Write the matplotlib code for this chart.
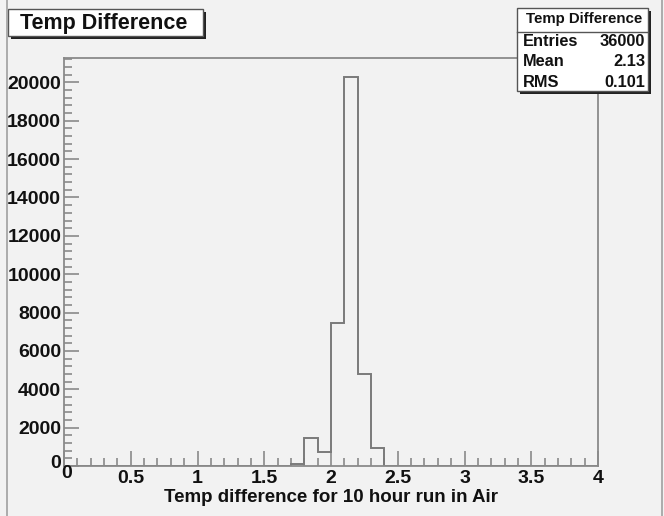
import numpy as np
import matplotlib
matplotlib.use("Agg")
import matplotlib.pyplot as plt
from matplotlib.patches import Rectangle
from matplotlib.lines import Line2D
from matplotlib.ticker import MultipleLocator

# histogram data (bin width 0.1, range 0-4)
bin_centers = [1.75, 1.85, 1.95, 2.05, 2.15, 2.25, 2.35]
bin_counts = [120, 1480, 740, 7450, 20260, 4800, 960]
n_bins = 40
x_range = (0, 4)

title = "Temp Difference"
x_label = "Temp difference for 10 hour run in Air"
stats_names = ["Entries", "Mean", "RMS"]
stats_values = ["36000", "2.13", "0.101"]

W, H = 664, 516
bg = "#f2f2f2"
frame_col = "#8a8a8a"
txt_col = "#111111"
font = "Liberation Sans"

fig = plt.figure(figsize=(W / 100, H / 100), dpi=100, facecolor=bg)
ax = fig.add_axes([64 / W, 1 - 466 / H, 534 / W, 408 / H], facecolor=bg)

ax.hist(bin_centers, bins=n_bins, range=x_range, weights=bin_counts,
        histtype="step", color="#7a7a7a", linewidth=1.4)

ax.set_xlim(*x_range)
ax.set_ylim(0, max(bin_counts) * 1.05)
ax.xaxis.set_major_locator(MultipleLocator(0.5))
ax.xaxis.set_minor_locator(MultipleLocator(0.1))
ax.yaxis.set_major_locator(MultipleLocator(2000))
ax.yaxis.set_minor_locator(MultipleLocator(400))
ax.tick_params(which="both", direction="in", color=frame_col, width=1.2,
               top=False, right=False)
ax.tick_params(which="major", length=11)
ax.tick_params(which="minor", length=6)
ax.tick_params(axis="x", pad=3)
ax.tick_params(axis="y", pad=2)
for s in ax.spines.values():
    s.set_color(frame_col)
    s.set_linewidth(1.3)

ax.set_xticklabels([("%g" % v) if v != 0 else "" for v in ax.get_xticks()])
ax.set_yticklabels([("%d" % v) if v != 0 else "" for v in ax.get_yticks()])
for lab in ax.get_xticklabels() + ax.get_yticklabels():
    lab.set_fontfamily(font)
    lab.set_fontweight("bold")
    lab.set_fontsize(14)
    lab.set_color(txt_col)
# ROOT style zero labels
fig.text(61 / W, 1 - 463 / H, "0", ha="right", va="center", fontsize=14,
         fontweight="bold", family=font, color=txt_col)
fig.text(67 / W, 1 - 474 / H, "0", ha="center", va="center", fontsize=14,
         fontweight="bold", family=font, color=txt_col)

ax.set_xlabel(x_label, fontsize=13.5, fontweight="bold", family=font,
              color=txt_col, labelpad=1)

# canvas border lines
fig.add_artist(Line2D([7 / W, 7 / W], [0, 1], color="#a0a0a0", lw=1.2))
fig.add_artist(Line2D([662 / W, 662 / W], [0, 1], color="#a0a0a0", lw=1.2))


def box(x0, y0, x1, y1):
    # shadow then box, pixel coords from top-left
    fig.add_artist(Rectangle(((x0 + 3) / W, 1 - (y1 + 3) / H),
                             (x1 - x0) / W, (y1 - y0) / H, transform=fig.transFigure,
                             facecolor="#222222", edgecolor="none"))
    fig.add_artist(Rectangle((x0 / W, 1 - y1 / H), (x1 - x0) / W, (y1 - y0) / H,
                             transform=fig.transFigure, facecolor="white",
                             edgecolor="#555555", lw=1.0))


# title box
box(8, 9, 203, 36)
fig.text(104 / W, 1 - 23 / H, title, ha="center", va="center", fontsize=15.5,
         fontweight="bold", family=font, color=txt_col)

# stats box
box(517, 8, 648, 91)
fig.text(584 / W, 1 - 19 / H, title, ha="center", va="center", fontsize=10.8,
         fontweight="bold", family=font, color=txt_col)
fig.add_artist(Line2D([517 / W, 648 / W], [1 - 32 / H, 1 - 32 / H],
                      color="#555555", lw=1.0))
for i, (name, val) in enumerate(zip(stats_names, stats_values)):
    y = 1 - (42 + 20 * i) / H
    fig.text(523 / W, y, name, ha="left", va="center", fontsize=11.8,
             fontweight="bold", family=font, color=txt_col)
    fig.text(645 / W, y, val, ha="right", va="center", fontsize=11.8,
             fontweight="bold", family=font, color=txt_col)

fig.savefig("out.png", dpi=100, facecolor=bg)
